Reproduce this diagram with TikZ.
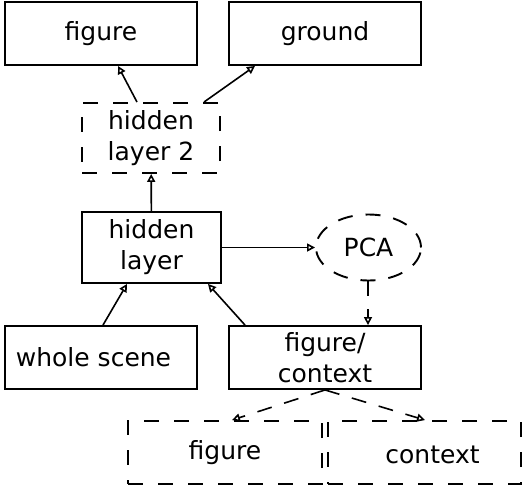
\documentclass[tikz,border=0pt]{standalone}
\usepackage{fontspec}
\setmainfont{DejaVu Sans}
\usetikzlibrary{arrows.meta,shapes.geometric}
\begin{document}
\begin{tikzpicture}[x=1pt,y=-1pt,
  every node/.style={font=\fontsize{25}{31}\selectfont, align=center, inner sep=0pt},
  box/.style={draw, line width=1.9pt, minimum width=#1, minimum height=63pt},
  box/.default=192pt,
  dashbox/.style={box=#1, dash pattern=on 15pt off 15pt},
  link/.style={line width=1.6pt, -{Triangle[open,length=8pt,width=8pt]}},
  dlink/.style={link, dash pattern=on 15pt off 13pt}]
\useasboundingbox (0,0) rectangle (522,488);
% top layer: outputs
\node[box] (fig) at (101,33.5) {figure};
\node[box] (gnd) at (325,33.5) {ground};
% hidden layers
\node[dashbox=138pt, minimum height=70pt] (h2) at (151,138) {hidden\\layer 2};
\node[box=139pt, minimum height=71pt] (h1) at (151.5,247.5) {hidden\\layer};
\node[draw, ellipse, line width=1.9pt, dash pattern=on 15pt off 13pt,
      minimum width=105pt, minimum height=66pt] (pca) at (368.5,247.5) {PCA};
% inputs
\node[box] (whole) at (101,357.5) {};
\node at (93.5,357.5) {whole scene};
\node[box] (fc) at (325,357.5) {figure/\\context};
% split of the figure/context input
\node[dashbox=194pt] (bfig) at (225,452.5) {figure};
\node[dashbox=193pt] (bctx) at (424.5,452.5) {};
\node at (432.5,455) {context};
% connectors
\draw[link] (h2.north -| 137,0) -- (fig.south -| 118,0);
\draw[link] (h2.north -| 204,0) -- (gnd.south -| 255,0);
\draw[link] (h1) -- (h2);
\draw[link] (h1) -- (pca);
\draw[dlink] (pca.south -| 368,0) -- (fc.north -| 368,0);
\draw[link] (whole.north -| 103,0) -- (h1.south -| 127,0);
\draw[link] (fc.north -| 245,0) -- (h1.south -| 208,0);
\draw[dlink] (fc.south -| 325,0) -- (bfig.north -| 232,0);
\draw[dlink] (fc.south -| 325,0) -- (bctx.north -| 425,0);
\end{tikzpicture}
\end{document}
